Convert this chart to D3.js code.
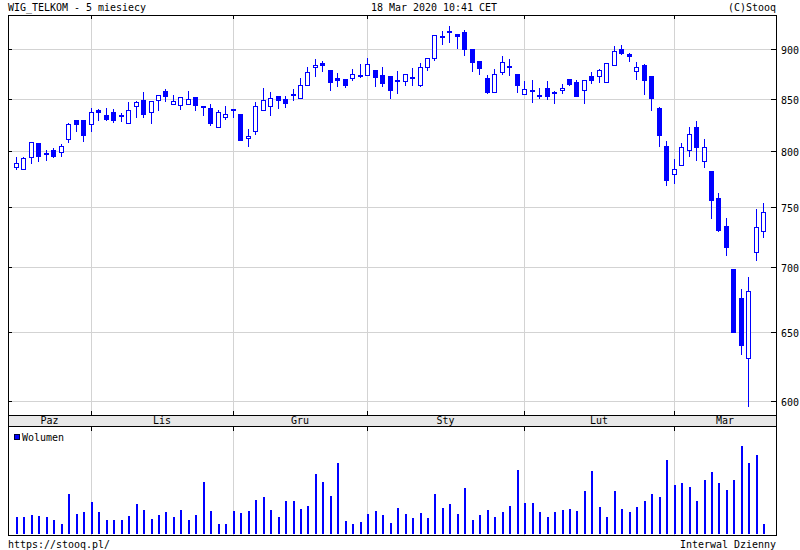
<!DOCTYPE html>
<html><head><meta charset="utf-8">
<script src="https://cdn.jsdelivr.net/npm/d3@7"></script>
<style>
body{margin:0;background:#fff;}
svg{display:block;}
text{font-family:"DejaVu Sans Mono",monospace;font-size:11px;fill:#000;}
</style></head>
<body>
<svg id="c" width="800" height="550"></svg>
<script>
// ---- data ----
const dates = [
 "2019-10-18","2019-10-21","2019-10-22","2019-10-23","2019-10-24","2019-10-25","2019-10-28","2019-10-29","2019-10-30","2019-10-31",
 "2019-11-04","2019-11-05","2019-11-06","2019-11-07","2019-11-08","2019-11-12","2019-11-13","2019-11-14","2019-11-15","2019-11-18",
 "2019-11-19","2019-11-20","2019-11-21","2019-11-22","2019-11-25","2019-11-26","2019-11-27","2019-11-28","2019-11-29",
 "2019-12-02","2019-12-03","2019-12-04","2019-12-05","2019-12-06","2019-12-09","2019-12-10","2019-12-11","2019-12-12","2019-12-13",
 "2019-12-16","2019-12-17","2019-12-18","2019-12-19","2019-12-20","2019-12-23","2019-12-27","2019-12-30",
 "2020-01-02","2020-01-03","2020-01-07","2020-01-08","2020-01-09","2020-01-10","2020-01-13","2020-01-14","2020-01-15","2020-01-16",
 "2020-01-17","2020-01-20","2020-01-21","2020-01-22","2020-01-23","2020-01-24","2020-01-27","2020-01-28","2020-01-29","2020-01-30","2020-01-31",
 "2020-02-03","2020-02-04","2020-02-05","2020-02-06","2020-02-07","2020-02-10","2020-02-11","2020-02-12","2020-02-13","2020-02-14",
 "2020-02-17","2020-02-18","2020-02-19","2020-02-20","2020-02-21","2020-02-24","2020-02-25","2020-02-26","2020-02-27","2020-02-28",
 "2020-03-02","2020-03-03","2020-03-04","2020-03-05","2020-03-06","2020-03-09","2020-03-10","2020-03-11","2020-03-12","2020-03-13",
 "2020-03-16","2020-03-17","2020-03-18"];
const open = [785.7,783.9,794.6,807.9,798.5,801.0,799.1,811.3,829.2,829.2,
 826.1,839.0,834.3,837.7,834.3,826.4,843.4,849.1,836.8,849.1,857.3,845.3,844.3,845.3,852.0,843.4,841.5,822.6,832.1,
 839.9,835.2,812.3,819.5,839.6,843.4,853.0,850.0,855.0,851.0,864.0,882.0,885.7,879.0,870.3,870.0,871.0,874.0,
 874.0,879.0,874.0,873.0,867.7,868.0,871.3,864.0,882.0,891.0,913.7,919.3,915.7,918.0,900.0,888.0,871.0,857.0,877.0,883.0,875.0,
 855.0,858.0,854.0,861.0,856.0,859.0,870.0,867.0,859.0,873.0,873.0,867.0,884.0,900.0,895.0,878.0,884.0,873.0,841.5,804.7,
 779.5,787.5,801.0,822.6,791.0,782.0,758.0,734.0,698.7,675.6,630.3,712.7,729.7];
const high = [794.6,794.6,808.5,808.0,801.3,802.8,806.6,826.4,829.2,829.2,
 840.9,840.3,840.9,840.0,836.2,846.5,847.5,856.3,848.1,854.0,860.0,854.0,852.0,857.3,852.0,843.4,844.7,839.6,842.8,
 840.0,835.2,821.1,846.5,860.3,856.3,853.0,853.0,859.3,871.0,882.0,890.0,888.0,879.0,876.0,870.0,880.0,885.0,
 891.0,879.0,882.0,873.0,878.0,875.0,881.0,886.0,891.0,915.0,919.0,924.0,915.7,920.0,900.0,888.0,874.0,880.0,893.0,890.0,875.0,
 868.0,869.0,861.0,868.0,858.0,865.0,870.0,869.0,869.0,877.0,880.0,886.0,903.0,904.0,896.0,887.0,885.0,873.0,842.5,809.4,
 792.9,807.5,822.6,828.3,811.3,782.0,762.5,741.0,698.7,682.6,692.6,748.3,753.7];
const low = [783.6,783.9,789.3,791.7,792.6,794.6,796.1,809.1,819.5,810.1,
 819.5,829.9,829.2,827.4,829.0,826.4,832.7,832.7,827.0,839.3,847.8,845.3,840.3,845.3,839.3,834.6,825.0,822.6,830.8,
 832.7,811.0,804.7,816.4,839.6,834.6,841.0,842.5,849.0,851.0,864.0,873.0,878.0,859.0,862.7,861.7,869.0,871.7,
 874.0,862.7,862.7,850.7,855.7,864.0,864.0,862.7,879.0,889.0,905.7,907.7,901.3,894.0,878.0,875.0,856.0,857.0,875.0,874.0,857.0,
 855.0,847.0,850.7,850.0,846.0,856.0,864.0,853.0,846.0,866.0,867.0,867.0,884.0,895.0,888.0,870.0,855.0,839.6,804.7,769.3,
 771.4,787.5,795.5,792.0,785.7,741.0,730.0,709.6,649.7,633.7,596.4,705.6,725.1];
const close = [789.3,793.8,808.5,795.5,799.0,796.1,804.7,825.5,826.1,815.7,
 837.7,836.8,830.2,829.2,833.0,839.0,847.2,835.5,848.1,854.0,852.7,848.1,852.0,850.0,844.3,842.1,827.0,836.8,835.0,
 838.7,811.0,814.2,843.4,849.0,851.0,849.0,846.2,853.7,864.0,877.0,884.0,884.3,867.0,869.0,864.0,875.0,872.7,
 885.0,871.7,866.0,858.7,868.3,875.0,871.7,882.0,891.0,915.0,914.0,919.7,914.3,900.0,887.0,881.0,857.0,875.0,887.0,882.0,864.0,
 859.7,858.3,852.7,853.0,856.3,861.0,865.0,853.0,869.0,869.0,879.0,886.0,898.0,896.0,893.0,882.0,869.0,850.6,815.7,773.8,
 784.0,803.8,816.0,803.8,803.8,756.5,731.0,716.7,649.7,640.3,680.8,733.0,745.8];
const volume = [51,51,57,54,51,42,30,120,60,66,96,66,42,42,42,54,90,72,45,57,66,51,72,42,57,156,69,30,30,69,63,69,102,111,72,51,99,99,75,84,
 180,156,114,213,39,30,36,60,69,57,33,78,60,48,63,48,120,78,90,60,138,42,57,72,51,66,84,192,93,93,66,51,66,72,75,69,129,189,81,51,
 129,75,66,81,99,120,111,222,147,153,141,99,162,186,153,132,162,264,213,237,30];
const priceTicks = [600,650,700,750,800,850,900];
const monthLabels = ["Paz","Lis","Gru","Sty","Lut","Mar"];
const titleText = "WIG_TELKOM - 5 miesiecy";
const dateText = "18 Mar 2020 10:41 CET";
const copyText = "(C)Stooq";
const urlText = "https://stooq.pl/";
const intervalText = "Interwal Dzienny";
const volumeLabel = "Wolumen";

// ---- layout ----
const L = 8, R = 776, PT = 15, PB = 415, BT = 415, BB = 426, VT = 426, VB = 535;
const BLUE = "#0000ff", GRID = "#d3d3d3";

const svg = d3.select("#c");
svg.append("rect").attr("width",800).attr("height",550).attr("fill","#fff");

const x = d3.scalePoint().domain(dates).range([16, 763.3]);
const y = d3.scaleLog().domain([590.4, 936.3]).range([PB, PT]);
const yv = d3.scaleLinear().domain([0, 318]).range([VB - 1, VT + 2]);
const px = d => Math.round(x(d));

function txt(s, tx, ty, anchor){
  return svg.append("text").attr("x",tx).attr("y",ty).attr("text-anchor",anchor||"start")
    .attr("textLength", s.length*6).attr("lengthAdjust","spacingAndGlyphs").text(s);
}

// month starts
const monthStarts = [];
dates.forEach((d,i)=>{ if(i===0 || d.slice(0,7)!==dates[i-1].slice(0,7)) monthStarts.push(d); });

const g = svg.append("g").attr("shape-rendering","crispEdges");

// horizontal grid
priceTicks.forEach(v=>{
  const yy = Math.round(y(v)) + 0.5;
  g.append("line").attr("x1",L).attr("x2",R).attr("y1",yy).attr("y2",yy).attr("stroke",GRID);
  g.append("line").attr("x1",L).attr("x2",L+4).attr("y1",yy).attr("y2",yy).attr("stroke","#000");
  g.append("line").attr("x1",R-5).attr("x2",R).attr("y1",yy).attr("y2",yy).attr("stroke","#000");
  txt(String(v), R+5, yy+4);
});

// vertical grid at month starts (skip first, which is the series start)
monthStarts.slice(1).forEach(d=>{
  const xx = px(d) + 0.5;
  g.append("line").attr("x1",xx).attr("x2",xx).attr("y1",PT).attr("y2",PB).attr("stroke",GRID);
  g.append("line").attr("x1",xx).attr("x2",xx).attr("y1",PT).attr("y2",PT+4).attr("stroke","#000");
  g.append("line").attr("x1",xx).attr("x2",xx).attr("y1",PB-4).attr("y2",PB).attr("stroke","#000");
  g.append("line").attr("x1",xx).attr("x2",xx).attr("y1",VT).attr("y2",VB).attr("stroke",GRID);
  g.append("line").attr("x1",xx).attr("x2",xx).attr("y1",VT).attr("y2",VT+5).attr("stroke","#000");
});

// month band
g.append("rect").attr("x",L+0.5).attr("y",BT+0.5).attr("width",R-L).attr("height",BB-BT)
  .attr("fill","#e8e8e8").attr("stroke","#000");
monthStarts.forEach((d,i)=>{
  const a = i===0 ? L : px(d);
  const b = i===monthStarts.length-1 ? R : px(monthStarts[i+1]);
  txt(monthLabels[i], (a+b)/2, BB-2, "middle");
});

// candles
const cg = svg.append("g").attr("shape-rendering","crispEdges");
dates.forEach((d,i)=>{
  const cx = px(d);
  cg.append("line").attr("x1",cx+0.5).attr("x2",cx+0.5)
    .attr("y1",Math.round(y(high[i]))).attr("y2",Math.round(y(low[i]))+1)
    .attr("stroke",BLUE).attr("stroke-width",1);
  const up = close[i] >= open[i];
  const top = Math.round(y(Math.max(open[i],close[i])));
  const bot = Math.round(y(Math.min(open[i],close[i])));
  cg.append("rect").attr("x",cx-1.5).attr("y",top+0.5).attr("width",4)
    .attr("height",Math.max(1,bot-top))
    .attr("fill", up ? "#fff" : BLUE).attr("stroke",BLUE).attr("stroke-width",1);
});

// volume
const vg = svg.append("g").attr("shape-rendering","crispEdges");
dates.forEach((d,i)=>{
  const cx = px(d);
  vg.append("rect").attr("x",cx).attr("width",2)
    .attr("y",Math.round(yv(volume[i]))).attr("height",Math.round(yv(0))-Math.round(yv(volume[i])))
    .attr("fill",BLUE);
});

// panel borders
g.append("rect").attr("x",L+0.5).attr("y",PT+0.5).attr("width",R-L).attr("height",PB-PT)
  .attr("fill","none").attr("stroke","#000");
svg.append("rect").attr("shape-rendering","crispEdges").attr("x",L+0.5).attr("y",VT+0.5).attr("width",R-L).attr("height",VB-VT)
  .attr("fill","none").attr("stroke","#000");

// legend
svg.append("rect").attr("shape-rendering","crispEdges").attr("x",14.5).attr("y",434.5).attr("width",5).attr("height",5)
  .attr("fill",BLUE).attr("stroke","#000033");
txt(volumeLabel, 22, 441);

// header / footer
txt(titleText, 8, 11);
txt(dateText, 371, 11);
txt(copyText, R, 11, "end");
txt(urlText, 8, 548);
txt(intervalText, R, 548, "end");
</script>
</body></html>
